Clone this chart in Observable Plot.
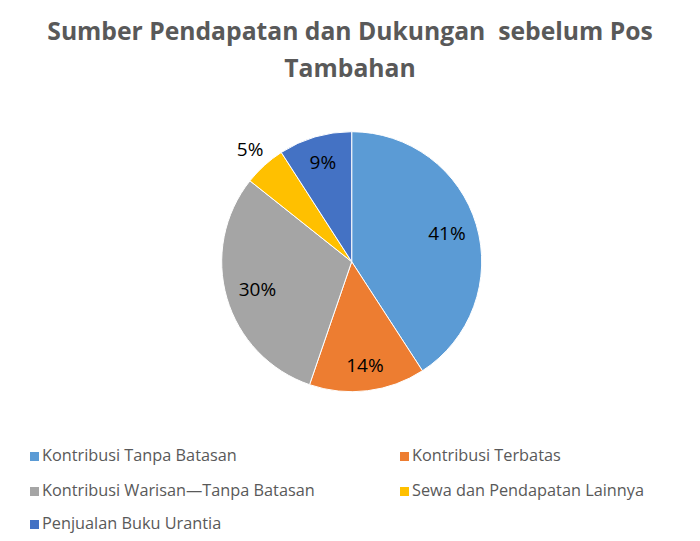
<!DOCTYPE html>
<html>
<head>
<meta charset="utf-8">
<script src="https://cdn.jsdelivr.net/npm/d3@7"></script>
<script src="https://cdn.jsdelivr.net/npm/@observablehq/plot@0.6"></script>
<style>
  body { margin: 0; background: #fff; font-family: "Open Sans", sans-serif; }
  #wrap { position: relative; width: 700px; height: 541px; overflow: hidden; }
  #title { position: absolute; left: 0; top: 12px; width: 700px; text-align: center;
    font-weight: 700; font-size: 24.7px; line-height: 37px; color: #595959; }
  #chart { position: absolute; left: 0; top: 95px; }
  .leg { position: absolute; font-size: 16.3px; color: #595959; white-space: nowrap; line-height: 18px; }
  .leg span.sw { display: inline-block; width: 9px; height: 9px; margin-right: 3px; vertical-align: 0px; }
</style>
</head>
<body>
<div id="wrap">
  <div id="title">Sumber Pendapatan dan Dukungan&nbsp; sebelum Pos<br>Tambahan</div>
  <div id="chart"></div>
  <div id="legend"></div>
</div>
<script>
const categories = ["Kontribusi Tanpa Batasan", "Kontribusi Terbatas", "Kontribusi Warisan\u2014Tanpa Batasan", "Sewa dan Pendapatan Lainnya", "Penjualan Buku Urantia"];
const values = [40.8, 14.4, 30.4, 5.2, 9.1];
const labels = ["41%", "14%", "30%", "5%", "9%"];
const colors = ["#5B9BD5", "#ED7D31", "#A5A5A5", "#FFC000", "#4472C4"];
const labelRadius = [0.76, 0.8, 0.76, 1.17, 0.8];

const data = categories.map((c, i) => ({category: c, value: values[i], label: labels[i], color: colors[i], lr: labelRadius[i]}));
const arcs = d3.pie().sort(null).value(d => d.value)(data);
const labelData = arcs.map(a => {
  const mid = (a.startAngle + a.endAngle) / 2;
  return {label: a.data.label, x: Math.sin(mid) * a.data.lr, y: Math.cos(mid) * a.data.lr};
});

const cx = 351.7, cy = 166.7, R = 130;

function pieMark(index, scales, values, dimensions) {
  const x0 = scales.x(0), y0 = scales.y(0);
  const r = Math.abs(scales.x(1) - scales.x(0));
  const arcGen = d3.arc().innerRadius(0).outerRadius(r);
  const g = d3.create("svg:g").attr("transform", `translate(${x0},${y0})`);
  g.selectAll("path").data(arcs).join("path")
    .attr("d", arcGen)
    .attr("fill", d => d.data.color)
    .attr("stroke", "#fff")
    .attr("stroke-width", 1);
  return g.node();
}

const plot = Plot.plot({
  width: 700,
  height: 335,
  margin: 0,
  x: {type: "linear", domain: [-1, 1], range: [cx - R, cx + R], axis: null},
  y: {type: "linear", domain: [-1, 1], range: [cy + R, cy - R], axis: null},
  style: {background: "transparent", fontFamily: "Open Sans, sans-serif"},
  marks: [
    pieMark,
    Plot.text(labelData, {x: "x", y: "y", text: "label", fontSize: 19, fill: "#000"})
  ]
});
document.getElementById("chart").appendChild(plot);

const legendPos = [[30, 446], [400, 446], [30, 481], [400, 481], [30, 514]];
const legend = document.getElementById("legend");
data.forEach((d, i) => {
  const el = document.createElement("div");
  el.className = "leg";
  el.style.left = legendPos[i][0] + "px";
  el.style.top = legendPos[i][1] + "px";
  el.innerHTML = `<span class="sw" style="background:${d.color}"></span>${d.category}`;
  legend.appendChild(el);
});
</script>
</body>
</html>
